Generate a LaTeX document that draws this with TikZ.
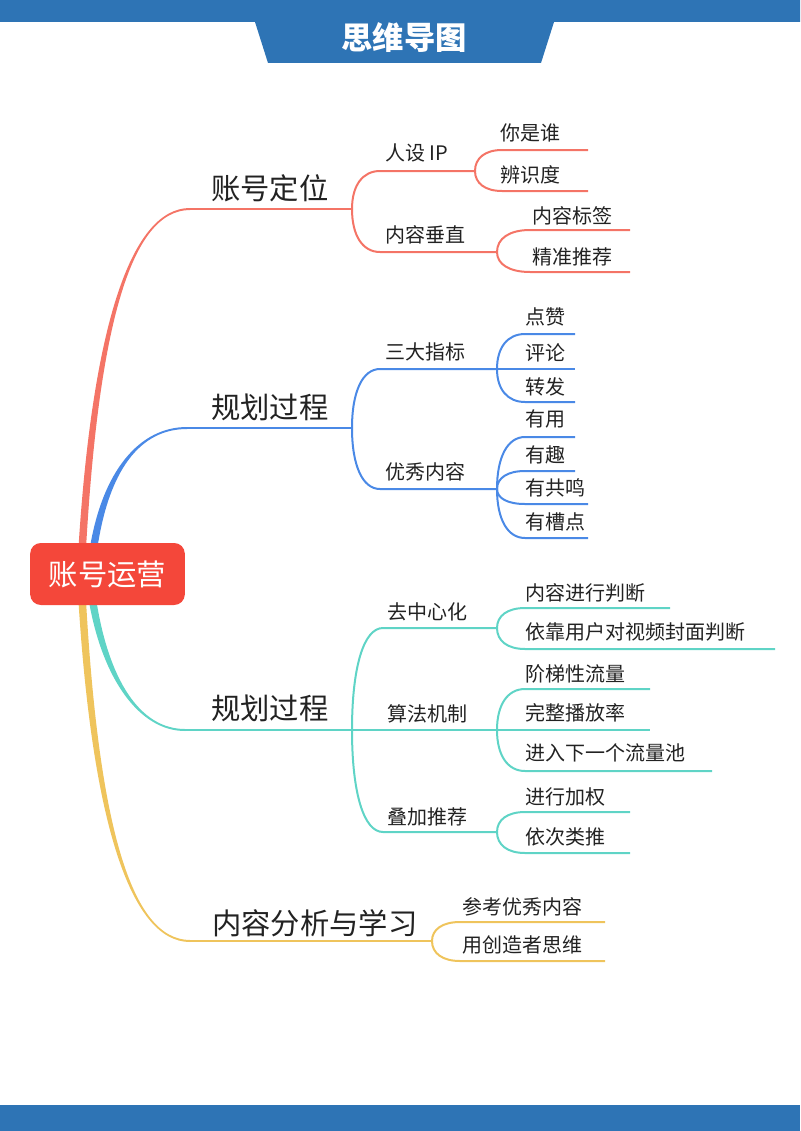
\documentclass[tikz,border=0pt]{standalone}
\usepackage{fontspec}
\setmainfont{Noto Sans CJK SC}
\usetikzlibrary{calc}
\definecolor{titleblue}{HTML}{2E74B5}
\definecolor{rootred}{HTML}{F4473A}
\definecolor{brred}{HTML}{F47466}
\definecolor{brblue}{HTML}{4A89E6}
\definecolor{brteal}{HTML}{5FD4C6}
\definecolor{bryellow}{HTML}{EFC45C}
\definecolor{txt}{HTML}{222222}
% tapered main branch: colour, start, control 1, control 2, end, outer offset at end
\newcommand{\mainbranch}[6]{%
  \fill[#1] ($(#2)+(-3.8,0)$) .. controls ($(#3)+(-3.2,0)$) and ($(#4)+(#6)$) .. ($(#5)+(#6)$)
    -- ($(#5)-(#6)$) .. controls ($(#4)-(#6)$) and ($(#3)+(3.2,0)$) .. ($(#2)+(3.8,0)$) -- cycle;}
\begin{document}
\begin{tikzpicture}[x=0.75pt,y=-0.75pt,
    main/.style={font=\fontsize{22}{24}\selectfont,text=txt,anchor=west,inner sep=0pt},
    sub/.style={font=\fontsize{15}{17}\selectfont,text=txt,anchor=west,inner sep=0pt},
    link/.style={line width=1.5pt},
    forkcurve/.style={to path={.. controls ($(\tikztostart)!0.62!(\tikztostart|-\tikztotarget)$) and ($(\tikztotarget)!0.62!(\tikztostart|-\tikztotarget)$) .. (\tikztotarget)}}]
    \useasboundingbox (0,0) rectangle (800,1131);

    % title band and footer
    \fill[titleblue] (0,0) -- (800,0) -- (800,22) -- (554,22) -- (541,63) -- (268,63) -- (255,22) -- (0,22) -- cycle;
    \node[font=\fontsize{23.5}{26}\selectfont\bfseries,text=white] (title) at (404,38) {思维导图};
    \fill[titleblue] (0,1105) rectangle (800,1131);

    % branch 1
    \coordinate (red0) at (82,552);
    \coordinate (red1) at (95,330);
    \coordinate (red2) at (130,209);
    \coordinate (red3) at (190,209);
    \coordinate (redf) at (352,209);
    \mainbranch{brred}{red0}{red1}{red2}{red3}{0,-1}
    \draw[link,brred] (red3) -- (redf);
    \node[main] (acct) at (211,188) {账号定位};

    \coordinate (ip-s) at (380,171);
    \coordinate (ip-f) at (475,171);
    \draw[link,brred] (redf) to[forkcurve] (ip-s) -- (ip-f);
    \node[sub] (ip) at (385,153) {人设 IP};
    \coordinate (who-s) at (502,150);
    \coordinate (who-e) at (588,150);
    \draw[link,brred] (ip-f) to[forkcurve] (who-s) -- (who-e);
    \node[sub] (who) at (500,133) {你是谁};
    \coordinate (idt-s) at (502,191);
    \coordinate (idt-e) at (588,191);
    \draw[link,brred] (ip-f) to[forkcurve] (idt-s) -- (idt-e);
    \node[sub] (idt) at (500,175) {辨识度};

    \coordinate (vert-s) at (380,252);
    \coordinate (vert-f) at (497,252);
    \draw[link,brred] (redf) to[forkcurve] (vert-s) -- (vert-f);
    \node[sub] (vert) at (385,235) {内容垂直};
    \coordinate (tag-s) at (530,230);
    \coordinate (tag-e) at (630,230);
    \draw[link,brred] (vert-f) to[forkcurve] (tag-s) -- (tag-e);
    \node[sub] (tag) at (532,216) {内容标签};
    \coordinate (rec-s) at (530,272);
    \coordinate (rec-e) at (630,272);
    \draw[link,brred] (vert-f) to[forkcurve] (rec-s) -- (rec-e);
    \node[sub] (rec) at (532,257) {精准推荐};

    % branch 2
    \coordinate (blue0) at (93,552);
    \coordinate (blue1) at (105,470);
    \coordinate (blue2) at (140,428);
    \coordinate (blue3) at (187,428);
    \coordinate (bluef) at (352,428);
    \mainbranch{brblue}{blue0}{blue1}{blue2}{blue3}{0,-1}
    \draw[link,brblue] (blue3) -- (bluef);
    \node[main] (plan) at (211,407) {规划过程};

    \coordinate (idx-s) at (380,369);
    \coordinate (idx-f) at (497,369);
    \draw[link,brblue] (bluef) to[forkcurve] (idx-s) -- (idx-f);
    \node[sub] (idx) at (385,352) {三大指标};
    \coordinate (like-s) at (525,334);
    \coordinate (like-e) at (575,334);
    \draw[link,brblue] (idx-f) to[forkcurve] (like-s) -- (like-e);
    \node[sub] (like) at (525,317) {点赞};
    \coordinate (cmt-e) at (575,369);
    \draw[link,brblue] (idx-f) -- (cmt-e);
    \node[sub] (cmt) at (525,353) {评论};
    \coordinate (fwd-s) at (525,402);
    \coordinate (fwd-e) at (575,402);
    \draw[link,brblue] (idx-f) to[forkcurve] (fwd-s) -- (fwd-e);
    \node[sub] (fwd) at (525,387) {转发};

    \coordinate (good-s) at (380,489);
    \coordinate (good-f) at (497,489);
    \draw[link,brblue] (bluef) to[forkcurve] (good-s) -- (good-f);
    \node[sub] (good) at (385,472) {优秀内容};
    \coordinate (use-s) at (525,437);
    \coordinate (use-e) at (575,437);
    \draw[link,brblue] (good-f) to[forkcurve] (use-s) -- (use-e);
    \node[sub] (use) at (525,419) {有用};
    \coordinate (fun-s) at (525,471);
    \coordinate (fun-e) at (575,471);
    \draw[link,brblue] (good-f) to[forkcurve] (fun-s) -- (fun-e);
    \node[sub] (fun) at (525,455) {有趣};
    \coordinate (echo-s) at (525,504);
    \coordinate (echo-e) at (588,504);
    \draw[link,brblue] (good-f) to[forkcurve] (echo-s) -- (echo-e);
    \node[sub] (echo) at (525,488) {有共鸣};
    \coordinate (roast-s) at (525,538);
    \coordinate (roast-e) at (588,538);
    \draw[link,brblue] (good-f) to[forkcurve] (roast-s) -- (roast-e);
    \node[sub] (roast) at (525,522) {有槽点};

    % branch 3
    \coordinate (teal0) at (92,597);
    \coordinate (teal1) at (105,680);
    \coordinate (teal2) at (140,730);
    \coordinate (teal3) at (185,730);
    \coordinate (tealf) at (352,730);
    \mainbranch{brteal}{teal0}{teal1}{teal2}{teal3}{0,1}
    \draw[link,brteal] (teal3) -- (tealf);
    \node[main] (plan2) at (211,708) {规划过程};

    \coordinate (dec-s) at (383,628);
    \coordinate (dec-f) at (497,628);
    \draw[link,brteal] (tealf) to[forkcurve] (dec-s) -- (dec-f);
    \node[sub] (dec) at (387,612) {去中心化};
    \coordinate (judge-s) at (525,608);
    \coordinate (judge-e) at (670,608);
    \draw[link,brteal] (dec-f) to[forkcurve] (judge-s) -- (judge-e);
    \node[sub] (judge) at (525,593) {内容进行判断};
    \coordinate (cover-s) at (525,649);
    \coordinate (cover-e) at (775,649);
    \draw[link,brteal] (dec-f) to[forkcurve] (cover-s) -- (cover-e);
    \node[sub] (cover) at (525,632) {依靠用户对视频封面判断};

    \coordinate (algo-f) at (497,730);
    \draw[link,brteal] (tealf) -- (algo-f);
    \node[sub] (algo) at (387,714) {算法机制};
    \coordinate (step-s) at (525,689);
    \coordinate (step-e) at (650,689);
    \draw[link,brteal] (algo-f) to[forkcurve] (step-s) -- (step-e);
    \node[sub] (stair) at (525,674) {阶梯性流量};
    \coordinate (full-e) at (650,730);
    \draw[link,brteal] (algo-f) -- (full-e);
    \node[sub] (full) at (525,713) {完整播放率};
    \coordinate (pool-s) at (525,771);
    \coordinate (pool-e) at (712,771);
    \draw[link,brteal] (algo-f) to[forkcurve] (pool-s) -- (pool-e);
    \node[sub] (pool) at (525,753) {进入下一个流量池};

    \coordinate (stack-s) at (383,832);
    \coordinate (stack-f) at (497,832);
    \draw[link,brteal] (tealf) to[forkcurve] (stack-s) -- (stack-f);
    \node[sub] (stack) at (387,817) {叠加推荐};
    \coordinate (wt-s) at (525,812);
    \coordinate (wt-e) at (630,812);
    \draw[link,brteal] (stack-f) to[forkcurve] (wt-s) -- (wt-e);
    \node[sub] (wt) at (525,797) {进行加权};
    \coordinate (etc-s) at (525,853);
    \coordinate (etc-e) at (630,853);
    \draw[link,brteal] (stack-f) to[forkcurve] (etc-s) -- (etc-e);
    \node[sub] (etc) at (525,837) {依次类推};

    % branch 4
    \coordinate (yel0) at (82,597);
    \coordinate (yel1) at (95,820);
    \coordinate (yel2) at (130,941);
    \coordinate (yel3) at (190,941);
    \coordinate (yelf) at (432,941);
    \mainbranch{bryellow}{yel0}{yel1}{yel2}{yel3}{0,1}
    \draw[link,bryellow] (yel3) -- (yelf);
    \node[main] (study) at (212,923) {内容分析与学习};
    \coordinate (ref-s) at (460,922);
    \coordinate (ref-e) at (605,922);
    \draw[link,bryellow] (yelf) to[forkcurve] (ref-s) -- (ref-e);
    \node[sub] (ref) at (462,907) {参考优秀内容};
    \coordinate (maker-s) at (460,961);
    \coordinate (maker-e) at (605,961);
    \draw[link,bryellow] (yelf) to[forkcurve] (maker-s) -- (maker-e);
    \node[sub] (maker) at (462,945) {用创造者思维};

    % root
    \node[fill=rootred,rounded corners=8pt,minimum width=116pt,minimum height=46.5pt,
        text=white,font=\fontsize{22}{24}\selectfont] (root) at (107.5,574) {账号运营};

\end{tikzpicture}
\end{document}
